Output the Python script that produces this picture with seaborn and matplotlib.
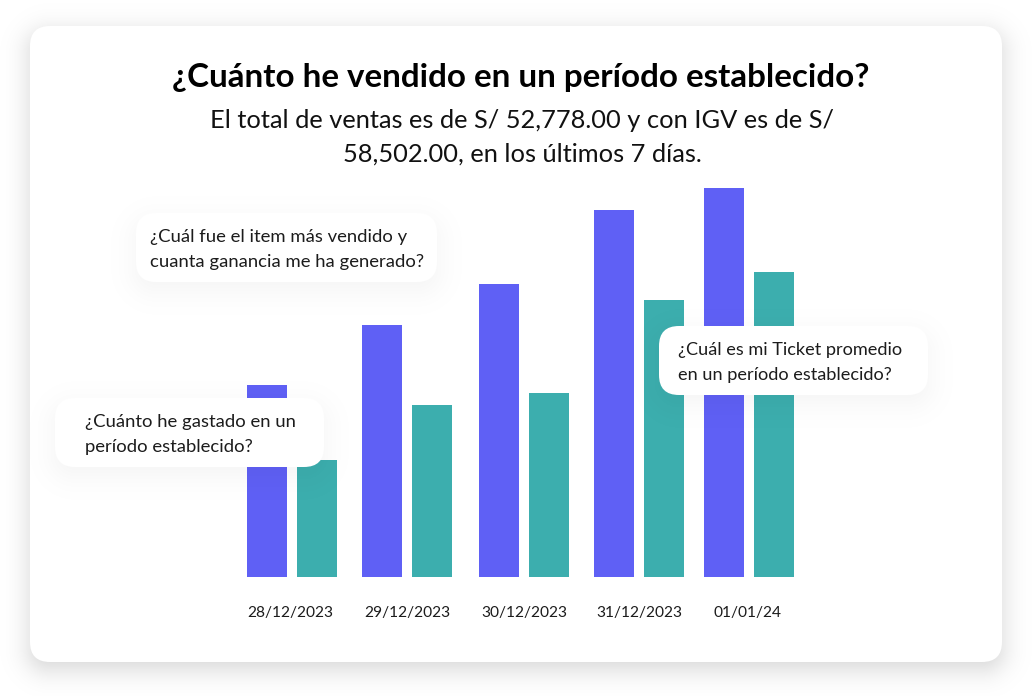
import numpy as np
import pandas as pd
import matplotlib
matplotlib.use('Agg')
import matplotlib.pyplot as plt
from matplotlib.patches import FancyBboxPatch
import seaborn as sns

fechas = ['28/12/2023', '29/12/2023', '30/12/2023', '31/12/2023', '01/01/24']
ventas = [192, 252, 293, 367, 389]
ventas_igv = [117, 172, 184, 277, 305]

# centros de cada grupo y de cada etiqueta, en pixeles de la imagen
centros = [292, 407, 524, 639, 749]
centros_tick = [290, 407, 524, 639, 748]

W, H = 1032, 696
BASE = 577
ALTO = 389
AZUL = '#5F60F5'
VERDE = '#3CAEAE'

sns.set_theme(style='white')
plt.rcParams['font.family'] = ['Lato', 'DejaVu Sans']


def caja(ax, x0, y0, x1, y1, r, **kw):
    p = FancyBboxPatch((x0 + r, y0 + r), x1 - x0 - 2 * r, y1 - y0 - 2 * r,
                       boxstyle=f'round,pad={r},rounding_size={r}', linewidth=0, **kw)
    ax.add_patch(p)


def sombra(ax, x0, y0, x1, y1, r, dy, s, fuerza, zorder):
    # sombra difusa: distancia al rectangulo redondeado, suavizada
    yy, xx = np.mgrid[0:H, 0:W] + 0.5
    cx, cy = (x0 + x1) / 2, (y0 + y1) / 2 + dy
    qx = np.abs(xx - cx) - (x1 - x0) / 2 + r
    qy = np.abs(yy - cy) - (y1 - y0) / 2 + r
    d = np.hypot(np.maximum(qx, 0), np.maximum(qy, 0)) + np.minimum(np.maximum(qx, qy), 0) - r
    img = np.zeros((H, W, 4))
    img[..., 3] = fuerza / (1 + np.exp(np.clip(d / s, -30, 30)))
    ax.imshow(img, extent=(0, W, H, 0), aspect='auto', interpolation='nearest', zorder=zorder)
    ax.set_xlim(0, W)
    ax.set_ylim(H, 0)


def capa(zorder):
    a = fig.add_axes([0, 0, 1, 1], xlim=(0, W), ylim=(H, 0), zorder=zorder)
    a.axis('off')
    return a


fig = plt.figure(figsize=(W / 100, H / 100), dpi=100, facecolor='white')

fondo = capa(0)
sombra(fondo, 30, 26, 1002, 662, 20, 7, 8, 0.17, 1)
caja(fondo, 30, 26, 1002, 662, 20, facecolor='white', zorder=2)

df = pd.DataFrame({
    'centro': centros * 2,
    'valor': ventas + ventas_igv,
    'serie': ['Ventas'] * 5 + ['Con IGV'] * 5,
})

ax = fig.add_axes([0, (H - BASE) / H, 1, ALTO / H], zorder=1)
sns.barplot(data=df, x='centro', y='valor', hue='serie', native_scale=True,
            palette=[AZUL, VERDE], width=100 / 110, gap=0.2, saturation=1,
            linewidth=0, legend=False, errorbar=None, ax=ax)
ax.patch.set_visible(False)
ax.set_xlim(0, W)
ax.set_ylim(0, ALTO)
ax.set_xticks(centros_tick)
ax.set_xticklabels(fechas, fontsize=11.2, color='#1c1c1c')
ax.tick_params(axis='x', length=0, pad=21)
ax.set_yticks([])
ax.set_xlabel('')
ax.set_ylabel('')
sns.despine(ax=ax, left=True, bottom=True)

frente = capa(2)
frente.text(520.5, 77, '¿Cuánto he vendido en un período establecido?', fontsize=23.9,
            fontweight='bold', color='black', ha='center', va='center')
frente.text(522, 120, 'El total de ventas es de S/ 52,778.00 y con IGV es de S/', fontsize=18.3,
            color='#111111', ha='center', va='center')
frente.text(522, 154, '58,502.00, en los últimos 7 días.', fontsize=18.3,
            color='#111111', ha='center', va='center')

burbujas = [
    (136, 213, 437, 282, 150, 13.3, ['¿Cuál fue el item más vendido y', 'cuanta ganancia me ha generado?']),
    (55, 398, 324, 467, 85, 13.3, ['¿Cuánto he gastado en un', 'período establecido?']),
    (659, 326, 928, 395, 678, 13.1, ['¿Cuál es mi Ticket promedio', 'en un período establecido?']),
]
for x0, y0, x1, y1, xt, fs, lineas in burbujas:
    sombra(frente, x0, y0, x1, y1, 20, 8, 10, 0.05, 3)
    caja(frente, x0, y0, x1, y1, 20, facecolor='white', zorder=4)
    for k, linea in enumerate(lineas):
        frente.text(xt, y0 + 24 + 25 * k, linea, fontsize=fs, color='#1c1c1c',
                    ha='left', va='center', zorder=5)

fig.savefig('out.png', dpi=100)
